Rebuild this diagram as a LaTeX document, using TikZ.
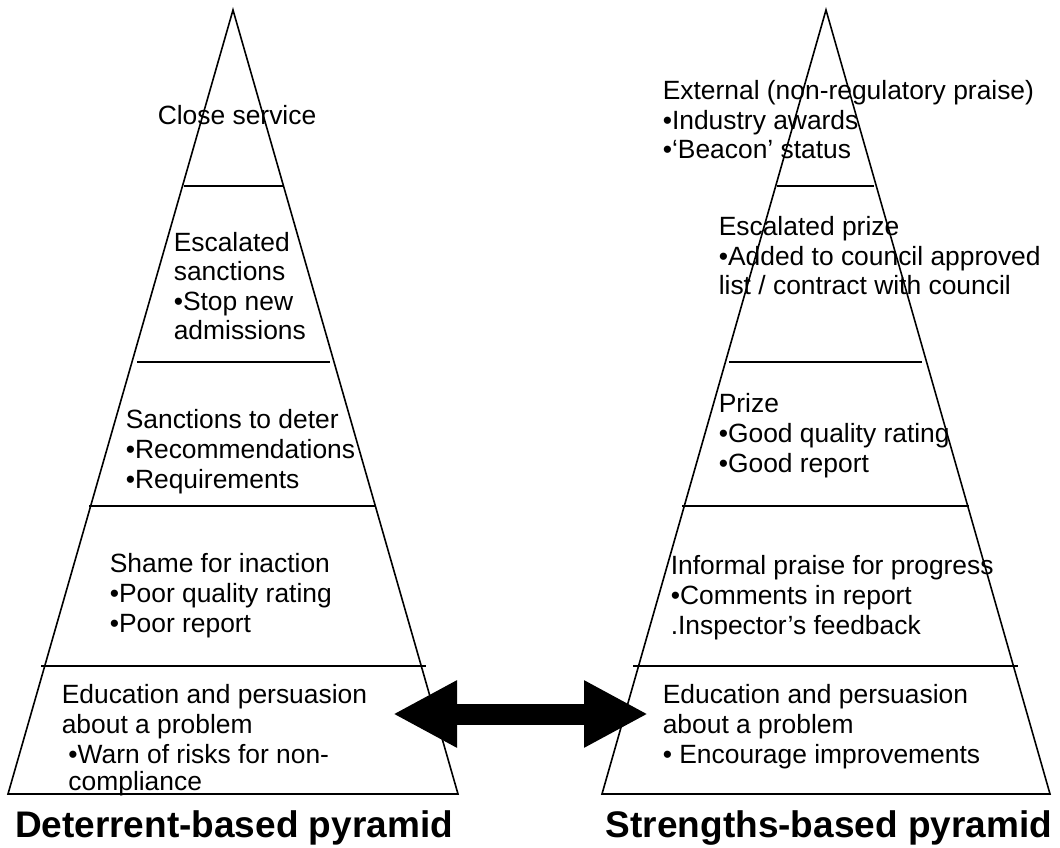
\documentclass[tikz,border=0pt]{standalone}
\usepackage{fontspec}
\setmainfont{Liberation Sans}
\usetikzlibrary{arrows.meta}

\begin{document}
\begin{tikzpicture}[x=0.75pt,y=-0.75pt,line width=1.2pt,
    tier/.style={anchor=base west,inner sep=0pt,align=left,
      font=\fontsize{19.8}{22.2}\selectfont},
    title/.style={anchor=base,inner sep=0pt,
      font=\fontsize{27.75}{30}\selectfont\bfseries},
    bigarrow/.style={line width=15.75pt,
      {Triangle[length=48pt,width=47pt]}-{Triangle[length=48pt,width=47pt]}}]
\useasboundingbox (0,0) rectangle (1060,848);

% deterrent-based pyramid
\coordinate (DA) at (233,10);
\coordinate (DL) at (8,794);
\coordinate (DR) at (458,794);
\draw (DA) -- (DL) -- (DR) -- cycle;
\draw (184,186) -- (283,186);
\draw (137,362) -- (330,362);
\draw (89,506) -- (376,506);
\draw (41,666) -- (426,666);

% tier texts, placed at the baseline of their last line
\node[tier] (d5) at (157,125) {Close service};
\node[tier] (d4) at (173,340) {Escalated\\sanctions\\•Stop new\\admissions};
\node[tier] (d3) at (125,488) {Sanctions to deter\\•Recommendations\\•Requirements};
\node[tier] (d2) at (109,632) {Shame for inaction\\•Poor quality rating\\•Poor report};
\node[tier] (d1) at (61,790) {Education and persuasion\\about a problem\\
    \hspace*{5pt}•Warn of risks for non-\\[-2pt]\hspace*{5pt}compliance};

% strengths-based pyramid
\coordinate (SA) at (826,10);
\coordinate (SL) at (602,794);
\coordinate (SR) at (1050,794);
\draw (SA) -- (SL) -- (SR) -- cycle;
\draw (777,186) -- (874,186);
\draw (729,362) -- (922,362);
\draw (682,506) -- (969,506);
\draw (633,666) -- (1018,666);

\node[tier] (s5) at (662,159) {External (non-regulatory praise)\\•Industry awards\\•‘Beacon’ status};
\node[tier] (s4) at (718,295) {Escalated prize\\•Added to council approved\\list / contract with council};
\node[tier] (s3) at (718,472) {Prize\\•Good quality rating\\•Good report};
\node[tier] (s2) at (670,634) {Informal praise for progress\\•Comments in report\\.Inspector’s feedback};
\node[tier] (s1) at (662,763) {Education and persuasion\\about a problem\\• Encourage improvements};

% link between the two bottom tiers
\coordinate (arrL) at (393,714);
\coordinate (arrR) at (648,714);
\draw[bigarrow] (arrL) -- (arrR);

\node[title] (dtitle) at (234,837) {Deterrent-based pyramid};
\node[title] (stitle) at (829,837) {Strengths-based pyramid};
\end{tikzpicture}
\end{document}
